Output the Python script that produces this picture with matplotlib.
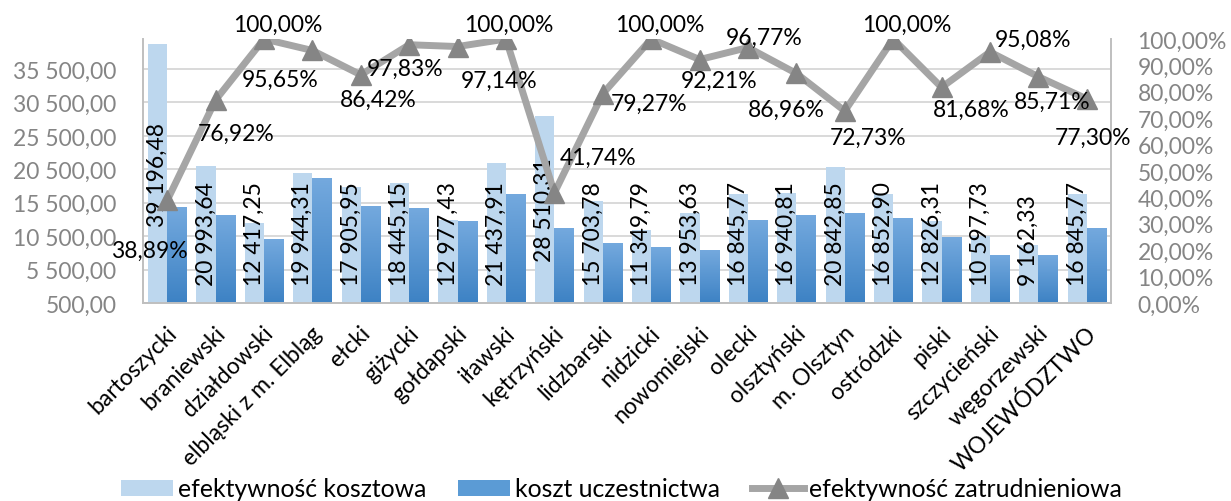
import numpy as np
import matplotlib
matplotlib.use("Agg")
import matplotlib.pyplot as plt
import matplotlib.transforms as mtransforms
from matplotlib.colors import LinearSegmentedColormap
from matplotlib.lines import Line2D
from matplotlib.patches import Patch
from matplotlib.ticker import FixedLocator, FuncFormatter

# ---- data -------------------------------------------------------------
categories = [
    "bartoszycki", "braniewski", "działdowski", "elbląski z m. Elbląg",
    "ełcki", "giżycki", "gołdapski", "iławski", "kętrzyński", "lidzbarski",
    "nidzicki", "nowomiejski", "olecki", "olsztyński", "m. Olsztyn",
    "ostródzki", "piski", "szczycieński", "węgorzewski", "WOJEWÓDZTWO",
]
efektywnosc_kosztowa = [
    39196.48, 20993.64, 12417.25, 19944.31, 17905.95, 18445.15, 12977.43,
    21437.91, 28510.31, 15703.78, 11349.79, 13953.63, 16845.77, 16940.81,
    20842.85, 16852.90, 12826.31, 10597.73, 9162.33, 16845.77,
]
koszt_uczestnictwa = [
    14760, 13620, 9930, 19130, 14960, 14660, 12720, 16740, 11680, 9440,
    8850, 8400, 12870, 13620, 13910, 13170, 10340, 7650, 7650, 11680,
]
efektywnosc_zatrudnieniowa = [
    38.89, 76.92, 100.00, 95.65, 86.42, 97.83, 97.14, 100.00, 41.74, 79.27,
    100.00, 92.21, 96.77, 86.96, 72.73, 100.00, 81.68, 95.08, 85.71, 77.30,
]
left_ticks = [500, 5500, 10500, 15500, 20500, 25500, 30500, 35500]
right_ticks = [0, 10, 20, 30, 40, 50, 60, 70, 80, 90, 100]
series_names = ["efektywność kosztowa", "koszt uczestnictwa",
                "efektywność zatrudnieniowa"]

# label offsets for the percentage labels (pixels, x right / y up)
pct_label_offsets = [
    (-18, -50), (21, -33), (14, 15), (-32, -29), (17, -24), (-4, -24),
    (41, -34), (3, 15), (44, 35), (46, -10), (9, 15), (19, -21), (16, 10),
    (-10, -36), (23, -26), (14, 15), (30, -22), (43, 13), (14, -25),
    (6, -38),
]

# ---- style ------------------------------------------------------------
FONT = "Lato"
FS = 16.5
FS_LEGEND = 17.8
plt.rcParams["font.family"] = [FONT, "DejaVu Sans"]
LIGHT = "#bdd7ee"
DARK_TOP = "#74a9de"
DARK_BOTTOM = "#3d82c4"
LINE = "#a5a5a5"
MARKER = "#858585"
AXIS_GREY = "#bfbfbf"
GRID = "#d9d9d9"
TICK_GREY = "#858585"


def pl_num(v):
    return f"{v:,.2f}".replace(",", " ").replace(".", ",")


def pl_pct(v):
    return f"{v:.2f}%".replace(".", ",")


fig = plt.figure(figsize=(12.31, 5.02), dpi=100)
ax = fig.add_axes([143 / 1231, 1 - 304 / 502, (1111 - 143) / 1231, (304 - 40) / 502])
ax2 = ax.twinx()

x = np.arange(len(categories))
w = 0.395

# light bars
light = ax.bar(x - w / 2, np.array(efektywnosc_kosztowa) - 500, bottom=500,
               width=w, color=LIGHT, zorder=2, linewidth=0)

# dark bars with vertical gradient
cmap = LinearSegmentedColormap.from_list("bluegrad", [DARK_BOTTOM, DARK_TOP])
grad = np.linspace(0, 1, 256).reshape(-1, 1)
dark = ax.bar(x + w / 2, np.array(koszt_uczestnictwa) - 500, bottom=500,
              width=w, color="none", zorder=2, linewidth=0)
for rect in dark:
    x0, y0 = rect.get_x(), rect.get_y()
    ax.imshow(grad, extent=[x0, x0 + rect.get_width(), y0, y0 + rect.get_height()],
              origin="lower", aspect="auto", cmap=cmap, zorder=2,
              interpolation="bilinear")

ax.set_xlim(-0.5, len(categories) - 0.5)
ax.set_ylim(500, 40000)
ax.yaxis.set_major_locator(FixedLocator(left_ticks))
ax.yaxis.set_major_formatter(FuncFormatter(lambda v, p: pl_num(v)))
ax.grid(axis="y", color=GRID, linewidth=1.4, zorder=0)
ax.set_axisbelow(True)
ax.tick_params(axis="y", length=0, pad=19, labelsize=FS, labelcolor=TICK_GREY)
ax.set_xticks(x)
ax.set_xticklabels(categories, rotation=45, ha="right", va="center",
                   rotation_mode="anchor", fontsize=FS, color="black")
ax.tick_params(axis="x", length=0, pad=19)
shift = mtransforms.ScaledTranslation(6 / 100, 0, fig.dpi_scale_trans)
for lab in ax.get_xticklabels():
    lab.set_transform(lab.get_transform() + shift)

for side in ["top", "right"]:
    ax.spines[side].set_visible(False)
for side in ["left", "bottom"]:
    ax.spines[side].set_color(AXIS_GREY)
    ax.spines[side].set_linewidth(1.4)

# line on secondary axis
ax2.plot(x, efektywnosc_zatrudnieniowa, color=LINE, linewidth=5,
         marker="^", markersize=15, markerfacecolor=MARKER,
         markeredgecolor=MARKER, zorder=5, solid_joinstyle="round")
ax2.set_ylim(0, 100)
ax2.yaxis.set_major_locator(FixedLocator(right_ticks))
ax2.yaxis.set_major_formatter(FuncFormatter(lambda v, p: pl_pct(v)))
ax2.tick_params(axis="y", length=0, pad=19, labelsize=FS, labelcolor=TICK_GREY)
for side in ["top", "left", "bottom"]:
    ax2.spines[side].set_visible(False)
ax2.spines["right"].set_color(AXIS_GREY)
ax2.spines["right"].set_linewidth(1.4)

for i, v in enumerate(efektywnosc_zatrudnieniowa):
    dx, dy = pct_label_offsets[i]
    ax2.annotate(pl_pct(v), xy=(i, v), xytext=(dx, dy),
                 textcoords="offset pixels", ha="center", va="center",
                 fontsize=FS, color="black", zorder=6)

# value labels inside the light bars, kept within the plot area
fig.canvas.draw()
renderer = fig.canvas.get_renderer()
bottom_px = ax.transData.transform((0, 500))[1]
for rect, v in zip(light, efektywnosc_kosztowa):
    cx = rect.get_x() + rect.get_width() / 2
    t = ax.text(cx, (500 + v) / 2, pl_num(v), rotation=90, ha="center",
                va="center", fontsize=FS, color="black", zorder=3)
    ext = t.get_window_extent(renderer)
    mid_px = ax.transData.transform((cx, (500 + v) / 2))[1]
    min_mid = bottom_px + ext.height / 2 + 18
    if mid_px < min_mid:
        new_y = ax.transData.inverted().transform((0, min_mid))[1]
        t.set_position((cx, new_y))

# legend
handles = [
    Patch(facecolor=LIGHT, edgecolor="none"),
    Patch(facecolor="#5b9bd5", edgecolor="none"),
    Line2D([0], [0], color=LINE, linewidth=5, marker="^", markersize=15,
           markerfacecolor=MARKER, markeredgecolor=MARKER),
]
fig.legend(handles, series_names, loc="center", bbox_to_anchor=(0.505, 0.024),
           ncol=3, frameon=False, fontsize=FS_LEGEND, handlelength=2.1,
           handleheight=0.65, handletextpad=0.2, columnspacing=1.3,
           borderaxespad=0, borderpad=0)

fig.savefig("out.png", dpi=100)
